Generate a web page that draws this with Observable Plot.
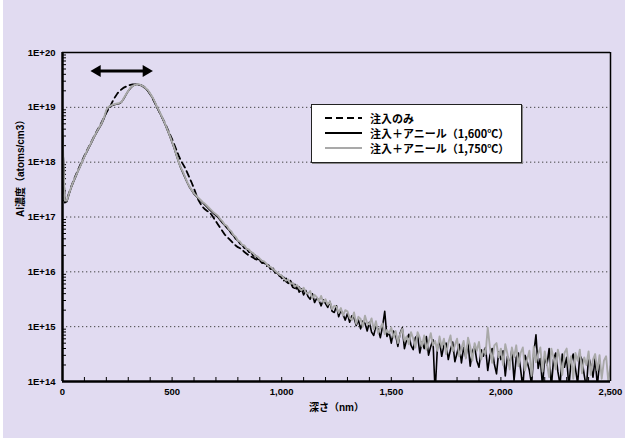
<!DOCTYPE html>
<html><head><meta charset="utf-8">
<script src="https://cdn.jsdelivr.net/npm/d3@7"></script>
<script src="https://cdn.jsdelivr.net/npm/@observablehq/plot@0.6"></script>
<style>
body{margin:0;background:#fff;}
#chart{position:relative;width:625px;height:438px;background:linear-gradient(to right,#fff 0 3px,#e1dbf1 3px);}
#chart svg{position:absolute;left:0;top:0;}
#legend{position:absolute;left:311px;top:104px;width:209px;height:57px;background:#fff;border:1px solid #222;box-shadow:1px 1px 0 #888;font-family:"Noto Sans CJK JP","Liberation Sans",sans-serif;font-weight:bold;font-size:11px;color:#000;}
#legend .row{position:absolute;left:0;height:14px;display:flex;align-items:center;white-space:nowrap;}
#legend .row svg{position:static;margin-left:13px;margin-right:8px;}
</style></head>
<body><div id="chart"><div id="legend"></div></div>
<script>
// ---- data (log10 of Al concentration, atoms/cm3), sampled every 10 nm of depth ----
const depthStep = 10;
const seriesNames = ["注入のみ", "注入＋アニール（1,600℃）", "注入＋アニール（1,750℃）"];
const implantOnly = [
18.45,17.28,17.32,17.44,17.56,17.66,17.76,17.85,17.94,18.03,
18.12,18.20,18.28,18.36,18.44,18.52,18.59,18.66,18.74,18.82,
18.90,18.97,19.04,19.12,19.19,19.25,19.30,19.33,19.36,19.38,
19.40,19.41,19.42,19.42,19.42,19.41,19.40,19.38,19.35,19.30,
19.24,19.17,19.09,19.01,18.93,18.85,18.77,18.69,18.60,18.51,
18.42,18.32,18.22,18.12,18.03,17.96,17.89,17.80,17.71,17.62,
17.52,17.41,17.31,17.24,17.18,17.14,17.11,17.09,17.04,16.98,
16.92,16.86,16.80,16.74,16.68,16.64,16.60,16.56,16.52,16.48,
16.45,16.43,16.40,16.36,16.33,16.30,16.28,16.26,16.23,16.22,
16.21,16.16,16.17,16.10,16.12,16.04,16.07,15.98,16.00,15.92,
15.93,15.84,15.88,15.78,15.82,15.72,15.77,15.66,15.72,15.62,15.66];
const anneal1600 = [
18.50,17.26,17.28,17.42,17.54,17.64,17.73,17.83,17.92,18.01,
18.10,18.18,18.26,18.34,18.42,18.50,18.57,18.64,18.71,18.80,
18.93,19.00,19.02,19.04,19.05,19.06,19.07,19.10,19.16,19.23,
19.30,19.35,19.39,19.41,19.42,19.41,19.40,19.37,19.34,19.30,
19.24,19.18,19.10,19.01,18.93,18.85,18.76,18.67,18.57,18.47,
18.36,18.25,18.12,18.00,17.89,17.80,17.71,17.62,17.54,17.48,
17.42,17.38,17.34,17.30,17.26,17.22,17.18,17.14,17.10,17.06,
17.03,16.99,16.94,16.89,16.85,16.80,16.76,16.70,16.66,16.60,
16.57,16.51,16.49,16.43,16.42,16.36,16.36,16.29,16.30,16.23,
16.22,16.20,16.16,16.14,16.11,16.06,16.04,16.00,15.97,15.94,
15.88,15.90,15.82,15.79,15.84,15.72,15.70,15.74,15.63,15.69,
15.58,15.66,15.55,15.50,15.60,15.44,15.52,15.48,15.38,15.49,
15.42,15.35,15.46,15.28,15.26,15.38,15.18,15.30,15.22,15.12,
15.24,15.08,15.20,15.16,15.02,15.12,14.96,15.10,15.06,14.92,
15.08,14.90,14.84,15.02,14.95,14.80,15.00,15.28,14.82,14.90,
14.70,14.92,14.84,14.64,14.88,14.98,14.60,14.76,14.86,14.66,
14.58,14.80,14.84,14.52,14.72,14.60,14.82,14.48,14.64,14.76,
13.80,14.60,14.74,14.46,14.66,14.70,14.40,14.58,14.72,14.36,
14.52,14.68,14.34,14.62,14.44,14.70,14.28,14.55,14.64,14.38,
14.26,14.58,14.46,14.62,14.20,14.48,14.60,14.32,14.14,14.54,
14.40,14.56,14.10,14.46,14.30,14.58,14.02,14.44,14.52,14.22,
13.88,14.48,14.36,14.20,13.94,14.52,14.85,14.24,14.42,13.90,
14.46,14.30,14.60,13.88,14.40,14.52,14.18,13.94,14.50,14.26,
14.44,13.90,14.36,14.50,14.24,13.96,14.48,14.40,14.12,13.88,
14.46,14.30,14.08,14.42,13.92,14.34];
const anneal1750 = [
18.55,17.30,17.30,17.43,17.55,17.65,17.74,17.83,17.92,18.01,
18.10,18.19,18.27,18.35,18.43,18.51,18.58,18.65,18.72,18.82,
18.95,19.01,19.03,19.05,19.06,19.07,19.08,19.10,19.17,19.24,
19.30,19.36,19.39,19.41,19.42,19.42,19.40,19.38,19.35,19.31,
19.25,19.19,19.11,19.02,18.94,18.86,18.77,18.68,18.58,18.48,
18.37,18.26,18.13,18.00,17.90,17.82,17.72,17.63,17.55,17.49,
17.43,17.39,17.35,17.31,17.27,17.24,17.20,17.16,17.12,17.08,
17.05,17.02,16.96,16.92,16.86,16.84,16.77,16.74,16.67,16.64,
16.57,16.55,16.49,16.48,16.42,16.41,16.36,16.34,16.29,16.28,
16.24,16.20,16.19,16.15,16.10,16.09,16.05,16.02,15.98,15.95,
15.93,15.88,15.84,15.86,15.78,15.80,15.73,15.76,15.70,15.66,
15.71,15.62,15.60,15.65,15.52,15.58,15.54,15.46,15.56,15.44,
15.50,15.40,15.46,15.32,15.38,15.36,15.25,15.34,15.20,15.30,
15.28,15.16,15.12,15.26,15.05,15.18,15.14,15.00,15.20,15.06,
15.04,15.15,14.95,15.10,14.88,14.98,15.06,14.86,14.94,14.88,
14.98,14.80,14.92,14.70,14.86,14.96,14.74,14.82,14.68,14.90,
14.78,14.62,14.90,14.80,14.64,14.84,14.58,14.72,14.88,14.66,
14.74,14.56,14.82,14.62,14.78,14.50,14.70,14.84,14.55,14.66,
14.78,14.46,14.60,14.74,14.42,14.80,14.64,14.38,14.70,14.56,
14.72,14.40,14.58,14.50,14.98,14.62,14.34,14.66,14.70,14.44,
14.60,14.30,14.68,14.50,14.22,14.62,14.44,14.66,14.28,14.52,
14.62,14.20,14.40,14.56,14.10,14.64,14.35,14.50,14.62,14.18,
14.55,14.32,14.08,14.60,14.44,14.22,14.58,14.40,14.12,14.52,
14.60,14.26,14.46,14.05,14.52,14.38,14.58,14.15,14.44,14.30,
14.55,14.12,14.40,14.50,14.20,14.48,14.05,14.38,14.46,14.00,14.28];

const yTicks = [1e14,1e15,1e16,1e17,1e18,1e19,1e20];
const yTickLabels = ["1E+14","1E+15","1E+16","1E+17","1E+18","1E+19","1E+20"];
const gridLevels = [1e15,1e16,1e17,1e18,1e19];
const xTicks = [0,500,1000,1500,2000,2500];
const xTickLabels = ["0","500","1,000","1,500","2,000","2,500"];
const xMinorTicks = d3.range(0, 2501, 100);
const yMinorTicks = [];
for (let e = 14; e < 20; e++) for (let m = 2; m <= 9; m++) yMinorTicks.push(m * 10 ** e);
const xTitle = "深さ（nm）";
const yTitle = "Al濃度（atoms/cm3）";
const arrowSpan = [[145, 395]];
const arrowLevel = 4.6e19;

const rows = arr => arr.map((v, i) => ({d: i * depthStep, v: 10 ** v}));
const sImp = rows(implantOnly), s1600 = rows(anneal1600), s1750 = rows(anneal1750);

const plot = Plot.plot({
  width: 625, height: 438,
  marginLeft: 62, marginRight: 15, marginTop: 52, marginBottom: 57,
  style: {background: "transparent", fontFamily: "'Liberation Sans', Arial, 'Noto Sans CJK JP', sans-serif", fontWeight: "bold", fontSize: "9.5px", color: "#000"},
  x: {domain: [0, 2500], label: null},
  y: {type: "log", domain: [1e14, 1e20], label: null},
  marks: [
    Plot.ruleY(gridLevels, {stroke: "#444", strokeDasharray: "1.3,2.7", strokeWidth: 1}),
    Plot.tickY(yMinorTicks, {insetRight: 544, stroke: "#000", strokeWidth: 1}),
    Plot.tickX(xMinorTicks, {insetTop: 325, stroke: "#000", strokeWidth: 1}),
    Plot.line(s1600, {x: "d", y: "v", stroke: "#000", strokeWidth: 1.6, clip: true}),
    Plot.line(sImp, {x: "d", y: "v", stroke: "#000", strokeWidth: 1.8, strokeDasharray: "6,4", clip: true}),
    Plot.line(s1750, {x: "d", y: "v", stroke: "#a9a9a9", strokeWidth: 1.9, clip: true}),
    Plot.ruleY([1e20], {stroke: "#000", strokeWidth: 1.5}),
    Plot.ruleX([2500], {stroke: "#000", strokeWidth: 1.5}),
    Plot.ruleX([0], {stroke: "#000", strokeWidth: 2.5}),
    Plot.ruleY([1e14], {stroke: "#000", strokeWidth: 2.5}),
    Plot.axisY({ticks: yTicks, tickFormat: d => yTickLabels[Math.round(Math.log10(d)) - 14], tickSize: 0, tickPadding: 7, label: null}),
    Plot.axisX({ticks: xTicks, tickFormat: d => xTickLabels[xTicks.indexOf(d)], tickSize: 0, tickPadding: 7, label: null}),
    Plot.link(arrowSpan, {x1: d => d[0], x2: d => d[1], y1: () => arrowLevel, y2: () => arrowLevel, stroke: "#000", strokeWidth: 3}),
    Plot.dot(arrowSpan, {x: d => d[1], y: () => arrowLevel, symbol: "triangle", r: 4.4, fill: "#000", rotate: 90, dx: -3}),
    Plot.dot(arrowSpan, {x: d => d[0], y: () => arrowLevel, symbol: "triangle", r: 4.4, fill: "#000", rotate: -90, dx: 3}),
    Plot.text([yTitle], {frameAnchor: "left", text: d => d, rotate: -90, dx: -42, fontSize: 10, fontWeight: "bold"}),
    Plot.text([xTitle], {frameAnchor: "bottom", text: d => d, dy: 29, fontSize: 10, fontWeight: "bold"})
  ]
});
document.getElementById("chart").insertBefore(plot, document.getElementById("legend"));

// legend
const legend = document.getElementById("legend");
const styles = [
  {stroke: "#000", dash: "7,4"},
  {stroke: "#000", dash: null},
  {stroke: "#a9a9a9", dash: null}
];
const rowCenters = [13, 28, 43];
seriesNames.forEach((name, i) => {
  const row = document.createElement("div");
  row.className = "row";
  row.style.top = (rowCenters[i] - 7) + "px";
  const s = d3.create("svg").attr("width", 37).attr("height", 14);
  s.append("line").attr("x1", 0).attr("x2", 37).attr("y1", 7).attr("y2", 7)
    .attr("stroke", styles[i].stroke).attr("stroke-width", 2)
    .attr("stroke-dasharray", styles[i].dash);
  row.appendChild(s.node());
  const t = document.createElement("span");
  t.textContent = name;
  row.appendChild(t);
  legend.appendChild(row);
});
</script></body></html>
